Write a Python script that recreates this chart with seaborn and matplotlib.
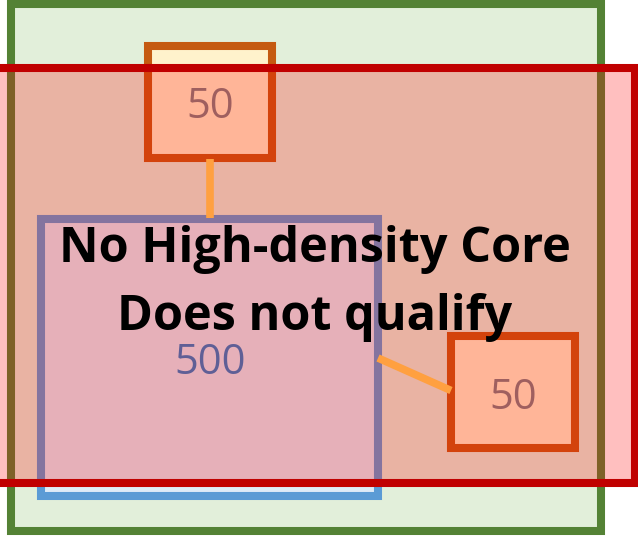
import numpy as np
import pandas as pd
import seaborn as sns
import matplotlib.pyplot as plt
from matplotlib.patches import Rectangle

# Values shown in the boxes
box_labels = ["50", "500", "50"]
box_names = ["top", "core", "right"]
verdict = ["No High-density Core", "Does not qualify"]

# Layout (pixel-like coordinates, y down)
boxes = pd.DataFrame({
    "name": box_names,
    "label": box_labels,
    "x0": [147.5, 41, 451],
    "y0": [46, 219, 336],
    "x1": [271.5, 378, 575],
    "y1": [157.5, 496, 447.5],
    "tx": [210, 210, 513],
    "ty": [118, 374, 409],
})

sns.set_theme(style="white")
plt.rcParams['font.family'] = ['Open Sans', 'DejaVu Sans']

fig = plt.figure(figsize=(6.38, 5.37), dpi=100)
ax = fig.add_axes([0, 0, 1, 1])
ax.set_xlim(0, 638)
ax.set_ylim(537, 0)
ax.axis("off")

lw = 5.8

def rect(x0, y0, x1, y1, fc, ec, z):
    ax.add_patch(Rectangle((x0, y0), x1 - x0, y1 - y0, facecolor=fc,
                           edgecolor=ec, linewidth=lw, zorder=z,
                           joinstyle="miter"))

# outer green area
rect(11, 3.5, 601, 531, "#E2EFDA", "#548235", 1)

# blue core (500)
core = boxes[boxes.name == "core"].iloc[0]
rect(core.x0, core.y0, core.x1, core.y1, "#DEEBF7", "#5B9BD5", 2)

# orange satellite boxes (50)
for _, b in boxes[boxes.name != "core"].iterrows():
    rect(b.x0, b.y0, b.x1, b.y1, "#FFF2CC", "#C55A11", 3)

# red translucent overlay
ax.add_patch(Rectangle((-10, 67.5), 644.5, 415.5, facecolor=(1, 0, 0, 0.25),
                       edgecolor="#C00000", linewidth=lw, zorder=4,
                       joinstyle="miter"))

# connectors
top = boxes[boxes.name == "top"].iloc[0]
right = boxes[boxes.name == "right"].iloc[0]
ax.plot([top.tx, top.tx], [top.y1 + 1, core.y0 - 1], color="#FFA040",
        lw=5.5, solid_capstyle="butt", zorder=5)
ax.plot([core.x1, right.x0], [358, 390.5], color="#FFA040",
        lw=5.5, solid_capstyle="butt", zorder=5)

# value labels
for _, b in boxes.iterrows():
    col = "#5F5F96" if b["name"] == "core" else "#9F5F5F"
    ax.text(b.tx, b.ty, b.label, ha="center", va="baseline", fontsize=30,
            color=col, zorder=6)

ax.text(315, 262, verdict[0], ha="center", va="baseline", fontsize=35,
        fontweight="bold", color="black", zorder=7)
ax.text(315, 330, verdict[1], ha="center", va="baseline", fontsize=35,
        fontweight="bold", color="black", zorder=7)

plt.savefig("out.png", dpi=100)
